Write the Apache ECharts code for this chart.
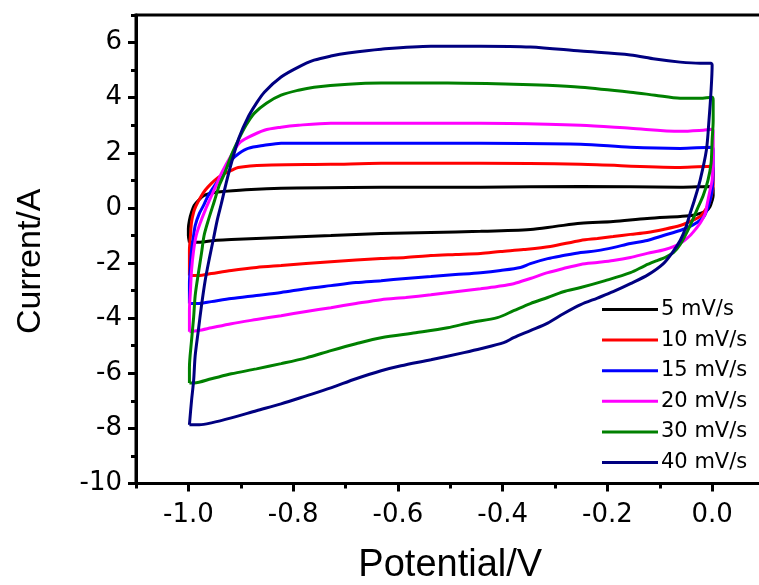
<!DOCTYPE html>
<html>
<head>
<meta charset="utf-8">
<script src="https://cdn.jsdelivr.net/npm/echarts@6/dist/echarts.min.js"></script>
<style>html,body{margin:0;padding:0;background:#fff}#c{width:759px;height:585px}</style>
</head>
<body>
<div id="c"></div>
<script>
// ---- data (potential V, current A) ----
const names = ['5 mV/s', '10 mV/s', '15 mV/s', '20 mV/s', '30 mV/s', '40 mV/s'];

const v5 = [-0.998,-1.000,-1.000,-0.998,-0.994,-0.989,-0.981,-0.970,-0.950,-0.931,-0.880,-0.823,-0.632,-0.442,-0.251,-0.061,0.000,0.002,0.002,0.000,-0.004,-0.010,-0.023,-0.036,-0.061,-0.124,-0.189,-0.251,-0.299,-0.347,-0.442,-0.537,-0.632,-0.728,-0.823,-0.918,-0.950,-0.981,-0.998];
const i5 = [-1.25,-1.00,-0.75,-0.45,-0.16,0.09,0.27,0.45,0.56,0.60,0.67,0.71,0.75,0.75,0.78,0.75,0.78,0.64,0.45,0.27,0.05,-0.09,-0.20,-0.27,-0.31,-0.38,-0.49,-0.56,-0.67,-0.78,-0.85,-0.89,-0.93,-1.00,-1.07,-1.15,-1.18,-1.25,-1.25];

const v10 = [-0.998,-0.998,-0.998,-0.996,-0.994,-0.990,-0.985,-0.977,-0.968,-0.956,-0.943,-0.931,-0.918,-0.905,-0.855,-0.728,-0.632,-0.442,-0.251,-0.061,0.000,0.002,0.002,0.000,-0.004,-0.008,-0.015,-0.023,-0.042,-0.061,-0.093,-0.124,-0.156,-0.189,-0.219,-0.251,-0.309,-0.360,-0.404,-0.442,-0.490,-0.537,-0.585,-0.632,-0.728,-0.823,-0.870,-0.918,-0.956,-0.981,-0.998];
const i10 = [-2.45,-1.98,-1.55,-1.00,-0.53,-0.16,0.09,0.38,0.64,0.89,1.11,1.25,1.36,1.47,1.55,1.58,1.62,1.62,1.58,1.47,1.51,1.36,0.82,0.56,0.27,0.09,-0.13,-0.31,-0.49,-0.64,-0.78,-0.89,-0.96,-1.04,-1.11,-1.18,-1.40,-1.51,-1.58,-1.65,-1.69,-1.73,-1.80,-1.84,-1.95,-2.09,-2.16,-2.27,-2.38,-2.45,-2.45];

const v15 = [-0.998,-0.998,-0.996,-0.994,-0.990,-0.987,-0.979,-0.971,-0.964,-0.952,-0.943,-0.931,-0.918,-0.903,-0.886,-0.855,-0.823,-0.632,-0.442,-0.251,-0.156,-0.061,0.000,0.002,0.002,0.000,-0.004,-0.010,-0.017,-0.029,-0.042,-0.061,-0.093,-0.124,-0.156,-0.189,-0.219,-0.251,-0.284,-0.314,-0.347,-0.366,-0.404,-0.442,-0.490,-0.537,-0.585,-0.632,-0.680,-0.728,-0.775,-0.823,-0.870,-0.918,-0.956,-0.981,-0.998];
const i15 = [-3.47,-2.75,-2.09,-1.55,-1.00,-0.64,-0.20,0.09,0.38,0.75,1.00,1.36,1.73,1.98,2.16,2.27,2.35,2.35,2.35,2.31,2.20,2.16,2.20,2.09,1.36,0.64,0.27,-0.09,-0.35,-0.53,-0.67,-0.82,-1.00,-1.18,-1.29,-1.44,-1.55,-1.62,-1.73,-1.84,-2.02,-2.16,-2.27,-2.35,-2.42,-2.49,-2.56,-2.64,-2.71,-2.82,-2.93,-3.07,-3.18,-3.29,-3.40,-3.47,-3.47];

const v20 = [-0.998,-0.998,-0.996,-0.994,-0.990,-0.985,-0.977,-0.968,-0.958,-0.947,-0.937,-0.918,-0.903,-0.886,-0.855,-0.823,-0.790,-0.728,-0.632,-0.442,-0.314,-0.251,-0.156,-0.061,-0.017,0.000,0.002,0.002,0.000,-0.004,-0.010,-0.013,-0.023,-0.029,-0.042,-0.061,-0.090,-0.124,-0.156,-0.189,-0.219,-0.251,-0.284,-0.314,-0.347,-0.379,-0.410,-0.442,-0.490,-0.537,-0.585,-0.632,-0.680,-0.728,-0.775,-0.823,-0.870,-0.918,-0.956,-0.981,-0.998];
const i20 = [-4.49,-3.73,-3.00,-2.27,-1.55,-1.00,-0.53,-0.09,0.35,0.82,1.25,1.91,2.35,2.56,2.82,2.93,3.00,3.07,3.07,3.07,3.04,3.00,2.89,2.78,2.82,2.85,2.75,1.73,1.00,0.64,0.09,-0.20,-0.56,-0.71,-1.00,-1.29,-1.51,-1.65,-1.80,-1.91,-1.98,-2.05,-2.20,-2.35,-2.56,-2.75,-2.85,-2.93,-3.04,-3.15,-3.25,-3.33,-3.47,-3.62,-3.76,-3.91,-4.05,-4.20,-4.35,-4.45,-4.49];

const v30 = [-0.998,-0.998,-0.994,-0.990,-0.987,-0.981,-0.975,-0.970,-0.962,-0.950,-0.941,-0.931,-0.918,-0.905,-0.890,-0.874,-0.851,-0.823,-0.790,-0.760,-0.695,-0.632,-0.505,-0.379,-0.314,-0.251,-0.156,-0.109,-0.061,-0.023,0.000,0.002,0.002,0.000,-0.002,-0.008,-0.017,-0.027,-0.042,-0.061,-0.074,-0.090,-0.105,-0.128,-0.156,-0.204,-0.251,-0.284,-0.314,-0.347,-0.379,-0.410,-0.461,-0.505,-0.566,-0.632,-0.680,-0.728,-0.775,-0.823,-0.870,-0.918,-0.956,-0.989,-0.998];
const i30 = [-6.35,-5.80,-4.82,-3.98,-3.18,-2.38,-1.65,-1.00,-0.45,0.27,0.82,1.25,1.91,2.45,3.00,3.44,3.80,4.09,4.27,4.38,4.49,4.53,4.53,4.49,4.45,4.38,4.20,4.09,3.98,3.98,4.02,3.91,3.18,2.45,1.62,1.00,0.45,0.02,-0.64,-1.33,-1.62,-1.80,-1.91,-2.09,-2.35,-2.64,-2.89,-3.04,-3.25,-3.47,-3.73,-3.98,-4.16,-4.35,-4.53,-4.71,-4.93,-5.18,-5.44,-5.65,-5.84,-6.02,-6.20,-6.35,-6.35];

const v40 = [-0.998,-0.994,-0.990,-0.987,-0.981,-0.975,-0.968,-0.960,-0.952,-0.945,-0.937,-0.928,-0.918,-0.903,-0.886,-0.870,-0.855,-0.823,-0.790,-0.760,-0.728,-0.695,-0.632,-0.537,-0.442,-0.347,-0.251,-0.156,-0.109,-0.061,-0.023,-0.002,0.000,-0.002,-0.006,-0.011,-0.023,-0.034,-0.042,-0.051,-0.061,-0.076,-0.093,-0.122,-0.156,-0.189,-0.219,-0.251,-0.284,-0.314,-0.347,-0.379,-0.398,-0.442,-0.474,-0.537,-0.594,-0.632,-0.680,-0.728,-0.775,-0.823,-0.870,-0.918,-0.956,-0.979,-0.998];
const i40 = [-7.87,-7.00,-6.27,-5.36,-4.45,-3.55,-2.64,-1.84,-1.11,-0.45,0.16,0.89,1.62,2.56,3.29,3.80,4.20,4.75,5.11,5.36,5.51,5.62,5.76,5.87,5.87,5.84,5.69,5.55,5.40,5.29,5.25,5.25,5.18,4.27,3.18,2.09,1.00,0.27,-0.20,-0.75,-1.18,-1.62,-2.02,-2.42,-2.75,-3.04,-3.27,-3.51,-3.84,-4.18,-4.45,-4.71,-4.89,-5.11,-5.25,-5.51,-5.73,-5.91,-6.20,-6.53,-6.82,-7.11,-7.36,-7.62,-7.80,-7.87,-7.87];

const xTickValues = [-1.0, -0.8, -0.6, -0.4, -0.2, 0.0];
const xMinorTickValues = [-1.1, -0.9, -0.7, -0.5, -0.3, -0.1, 0.1];
const yTickValues = [-10, -8, -6, -4, -2, 0, 2, 4, 6];
const yMinorTickValues = [-9, -7, -5, -3, -1, 1, 3, 5, 7];

// ---- styles ----
const colors = ['#000000', '#ff0000', '#0000ff', '#ff00ff', '#008000', '#000080'];
const vs = [v5, v10, v15, v20, v30, v40];
const is = [i5, i10, i15, i20, i30, i40];

const AX = 3;
const baseX = {min: -1.1, max: 0.1, gridIndex: 0, splitLine: {show: false}};
const baseY = {min: -10, max: 7, gridIndex: 0, splitLine: {show: false}};

const chart = echarts.init(document.getElementById('c'), null, {renderer: 'canvas'});
chart.setOption({
  animation: false,
  backgroundColor: '#fff',
  grid: {left: 136, top: 15, right: -5.5, bottom: 101.5, containLabel: false, outerBoundsMode: 'none',
         show: true, borderColor: '#000', borderWidth: AX, backgroundColor: 'transparent'},
  legend: {
    orient: 'vertical', left: 597, top: 294, itemWidth: 56, itemHeight: 3, itemGap: 9.6,
    icon: 'rect',
    textStyle: {fontFamily: 'DejaVu Sans', fontSize: 21, color: '#000', lineHeight: 20, padding: [0, 0, 0, -2]},
    data: names
  },
  xAxis: [
    Object.assign({}, baseX, {
      type: 'value', position: 'bottom',
      name: 'Potential/V', nameLocation: 'middle', nameGap: 63,
      nameTextStyle: {fontFamily: 'Liberation Sans', fontSize: 38, color: '#000'},
      axisLine: {show: true, onZero: false, lineStyle: {color: '#000', width: AX}},
      axisTick: {show: true, inside: false, length: 8, lineStyle: {color: '#000', width: AX}, customValues: xTickValues},
      axisLabel: {show: true, margin: 19, customValues: xTickValues, formatter: v => Number(v).toFixed(1),
                  fontFamily: 'DejaVu Sans', fontSize: 26, color: '#000'}
    }),
    Object.assign({}, baseX, {
      type: 'value', position: 'bottom',
      axisLine: {show: false, onZero: false},
      axisTick: {show: true, inside: false, length: 5, lineStyle: {color: '#000', width: AX}, customValues: xMinorTickValues},
      axisLabel: {show: false}
    })
  ],
  yAxis: [
    Object.assign({}, baseY, {
      type: 'value', position: 'left',
      name: 'Current/A', nameLocation: 'middle', nameGap: 88,
      nameTextStyle: {fontFamily: 'Liberation Sans', fontSize: 34, color: '#000', padding: [0, 24, 0, 0]},
      axisLine: {show: true, onZero: false, lineStyle: {color: '#000', width: AX}},
      axisTick: {show: true, inside: false, length: 8, lineStyle: {color: '#000', width: AX}, customValues: yTickValues},
      axisLabel: {show: true, margin: 14, customValues: yTickValues, formatter: v => String(Math.round(v)),
                  fontFamily: 'DejaVu Sans', fontSize: 26, color: '#000'}
    }),
    Object.assign({}, baseY, {
      type: 'value', position: 'left',
      axisLine: {show: false, onZero: false},
      axisTick: {show: true, inside: false, length: 5, lineStyle: {color: '#000', width: AX}, customValues: yMinorTickValues},
      axisLabel: {show: false}
    })
  ],
  series: names.map((n, k) => ({
    name: n, type: 'line', xAxisIndex: 0, yAxisIndex: 0,
    data: vs[k].map((v, j) => [v, is[k][j]]),
    showSymbol: false, symbol: 'none', smooth: 0.3,
    lineStyle: {color: colors[k], width: 3},
    itemStyle: {color: colors[k]},
    z: 2 + k
  }))
});
</script>
</body>
</html>
